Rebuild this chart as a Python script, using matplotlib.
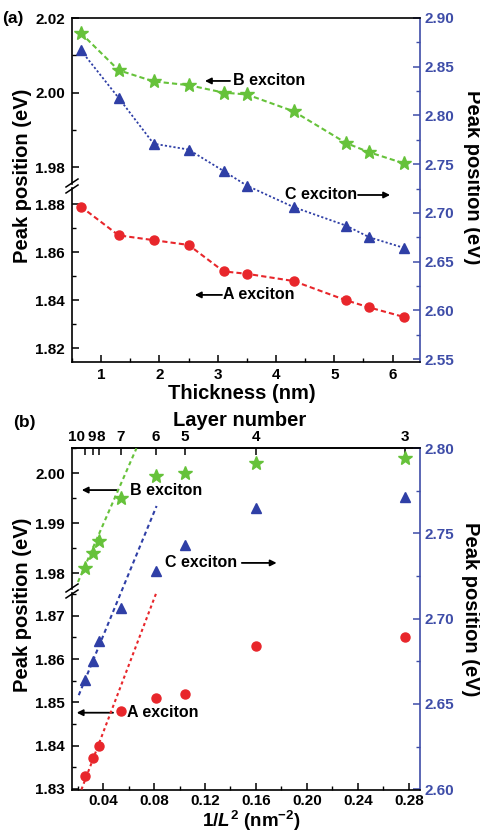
import numpy as np
import matplotlib
matplotlib.use('Agg')
import matplotlib.pyplot as plt
from matplotlib.lines import Line2D
from matplotlib.ticker import MultipleLocator, NullLocator, FormatStrFormatter
import matplotlib.transforms as mtransforms

# ---------------- data ----------------
thickness = [0.65, 1.3, 1.9, 2.5, 3.1, 3.5, 4.3, 5.2, 5.6, 6.2]          # nm
A_peak = [1.879, 1.867, 1.865, 1.863, 1.852, 1.851, 1.848, 1.840, 1.837, 1.833]
B_peak = [2.016, 2.006, 2.003, 2.002, 2.000, 1.9995, 1.995, 1.9865, 1.984, 1.981]
C_peak = [2.867, 2.818, 2.771, 2.765, 2.743, 2.728, 2.706, 2.687, 2.675, 2.664]

# panel (b) uses samples of 3..10 layers (thickness 1.9 .. 6.2 nm)
layer_numbers = [3, 4, 5, 6, 7, 8, 9, 10]
layer_thickness = thickness[2:]
inv_L2 = [1.0 / (t * t) for t in layer_thickness]
A_b = A_peak[2:]
B_b = B_peak[2:]
C_b = C_peak[2:]

# linear fit lines drawn in (b)
fitA_x = [0.0230, 0.0820]
fitA_y = [1.8298, 1.8755]
fitB_x = [0.0203, 0.0662]
fitB_y = [1.9783, 2.0050]
fitC_x = [0.0209, 0.0820]
fitC_y = [2.6551, 2.7660]

GREEN = '#66C23A'
BLUE = '#2F3FA6'
BLUE_AX = '#3E4DA8'
RED = '#E8262B'

plt.rcParams.update({
    'font.family': ['Liberation Sans', 'DejaVu Sans'],
    'font.weight': 'bold',
    'font.size': 11,
    'mathtext.fontset': 'custom',
    'mathtext.rm': 'Liberation Sans:bold',
    'mathtext.it': 'Liberation Sans:italic:bold',
    'mathtext.bf': 'Liberation Sans:bold',
    'axes.linewidth': 1.2,
})

W, H = 481, 833
fig = plt.figure(figsize=(W / 100, H / 100), dpi=100)


def rect(l, t, r, b):
    return [l / W, 1 - b / H, (r - l) / W, (b - t) / H]


def fx(px):
    return px / W


def fy(py):
    return 1 - py / H


LEFT, RIGHT = 72, 420


def make_panel(top, brk, bottom, xlim, ylimU, ylimL, ylimR, gap=4, xpad=4):
    axR = fig.add_axes(rect(LEFT, top, RIGHT, bottom))
    axU = fig.add_axes(rect(LEFT, top, RIGHT, brk - gap / 2))
    axL = fig.add_axes(rect(LEFT, brk + gap / 2, RIGHT, bottom))
    for a in (axR, axU, axL):
        a.set_xlim(*xlim)
    axU.set_ylim(*ylimU)
    axL.set_ylim(*ylimL)
    axR.set_ylim(*ylimR)
    # right (full-height) axis
    axR.spines['left'].set_visible(False)
    axR.spines['right'].set_color(BLUE_AX)
    axR.yaxis.tick_right()
    axR.tick_params(axis='y', which='both', direction='in', colors=BLUE_AX,
                    labelcolor=BLUE_AX, pad=3)
    axR.tick_params(axis='both', which='major', length=5, width=1.1)
    axR.tick_params(axis='both', which='minor', length=3, width=1.0)
    axR.tick_params(axis='x', which='both', direction='in', pad=xpad)
    # left split axes
    for a in (axU, axL):
        a.patch.set_visible(False)
        for s in ('top', 'bottom', 'right'):
            a.spines[s].set_visible(False)
        a.xaxis.set_visible(False)
        a.tick_params(axis='y', which='both', direction='in', pad=5)
        a.tick_params(axis='y', which='major', length=5, width=1.1)
        a.tick_params(axis='y', which='minor', length=3, width=1.0)
    # break marks
    yc = brk
    for dy in (-3, 3):
        fig.add_artist(Line2D([fx(LEFT - 6), fx(LEFT + 6)],
                              [fy(yc + dy + 4), fy(yc + dy - 4)],
                              transform=fig.transFigure, color='k', lw=1.1))
    return axR, axU, axL


fmt2 = FormatStrFormatter('%.2f')

# ================= panel (a) =================
axR, axU, axL = make_panel(18, 186, 362, (0.5, 6.47),
                           (1.9755, 2.02), (1.8143, 1.8867), (2.547, 2.90))
axR.xaxis.set_major_locator(MultipleLocator(1))
axR.xaxis.set_minor_locator(MultipleLocator(0.5))
axR.yaxis.set_major_locator(MultipleLocator(0.05))
axR.yaxis.set_minor_locator(MultipleLocator(0.025))
axR.yaxis.set_major_formatter(fmt2)
for a in (axU, axL):
    a.yaxis.set_major_locator(MultipleLocator(0.02))
    a.yaxis.set_minor_locator(MultipleLocator(0.01))
    a.yaxis.set_major_formatter(fmt2)

axR.plot(thickness, C_peak, color=BLUE, ls=(0, (1.2, 1.2)), lw=1.3,
         marker='^', ms=7, mec=BLUE, mfc=BLUE)
axU.plot(thickness, B_peak, color=GREEN, ls=(0, (2.5, 1.5)), lw=1.5,
         marker='*', ms=10.5, mec=GREEN, mfc=GREEN, clip_on=False)
axL.plot(thickness, A_peak, color=RED, ls=(0, (2.5, 1.5)), lw=1.5,
         marker='o', ms=6.5, mec=RED, mfc=RED)

arrow = dict(arrowstyle='-|>', lw=1.3, color='k', mutation_scale=9,
             shrinkA=0, shrinkB=0)
tkw = dict(fontsize=11.5, fontweight='bold', va='center')
axR.annotate('', xy=(0.382, 0.817), xytext=(0.454, 0.817),
             xycoords='axes fraction', arrowprops=arrow)
axR.text(0.463, 0.817, 'B exciton', transform=axR.transAxes, ha='left', **tkw)
axR.text(0.612, 0.4855, 'C exciton', transform=axR.transAxes, ha='left', **tkw)
axR.annotate('', xy=(0.914, 0.4855), xytext=(0.822, 0.4855),
             xycoords='axes fraction', arrowprops=arrow)
axR.annotate('', xy=(0.353, 0.195), xytext=(0.431, 0.195),
             xycoords='axes fraction', arrowprops=arrow)
axR.text(0.434, 0.195, 'A exciton', transform=axR.transAxes, ha='left', **tkw)

lab = dict(fontsize=14.5, fontweight='bold', ha='center', va='center')
fig.text(fx(242), fy(394), 'Thickness (nm)', **lab)
fig.text(fx(23), fy(176), 'Peak position (eV)', rotation=90, **lab)
fig.text(fx(473), fy(177), 'Peak position (eV)', rotation=270, **lab)
fig.text(fx(2), fy(18), '(a)', fontsize=12.5, fontweight='bold', ha='left', va='center')

# ================= panel (b) =================
bR, bU, bL = make_panel(448, 591, 790, (0.0156, 0.2888),
                        (1.9769, 2.00506), (1.8297, 1.8753), (2.5995, 2.80),
                        xpad=3)
bR.xaxis.set_major_locator(MultipleLocator(0.04))
bR.xaxis.set_minor_locator(MultipleLocator(0.02))
bR.xaxis.set_major_formatter(fmt2)
bR.yaxis.set_major_locator(MultipleLocator(0.05))
bR.yaxis.set_minor_locator(MultipleLocator(0.025))
bR.yaxis.set_major_formatter(fmt2)
for a in (bU, bL):
    a.yaxis.set_major_locator(MultipleLocator(0.01))
    a.yaxis.set_minor_locator(MultipleLocator(0.005))
    a.yaxis.set_major_formatter(fmt2)

bR.plot(fitC_x, fitC_y, color=BLUE, ls=(0, (2, 1.6)), lw=1.5)
bU.plot(fitB_x, fitB_y, color=GREEN, ls=(0, (2, 1.6)), lw=1.5)
bL.plot(fitA_x, fitA_y, color=RED, ls=(0, (1.5, 1.5)), lw=1.5)
bR.plot(inv_L2, C_b, ls='none', marker='^', ms=7, mec=BLUE, mfc=BLUE)
bU.plot(inv_L2, B_b, ls='none', marker='*', ms=10.5, mec=GREEN, mfc=GREEN, clip_on=False)
bL.plot(inv_L2, A_b, ls='none', marker='o', ms=6.5, mec=RED, mfc=RED)

# top axis: layer number
sec = bR.secondary_xaxis('top')
sec.set_xticks(inv_L2, labels=[str(n) for n in layer_numbers])
sec.xaxis.set_minor_locator(NullLocator())
sec.tick_params(axis='x', direction='in', length=5, width=1.1, pad=3, labelsize=11)
label_shift = {10: -9, 9: -1, 8: 2}
for n, tl in zip(layer_numbers, sec.xaxis.get_majorticklabels()):
    if n in label_shift:
        off = mtransforms.ScaledTranslation(label_shift[n] / 100, 0, fig.dpi_scale_trans)
        tl.set_transform(tl.get_transform() + off)

bR.annotate('', xy=(0.028, 0.877), xytext=(0.128, 0.877),
            xycoords='axes fraction', arrowprops=arrow)
bR.text(0.167, 0.877, 'B exciton', transform=bR.transAxes, ha='left', **tkw)
bR.text(0.267, 0.664, 'C exciton', transform=bR.transAxes, ha='left', **tkw)
bR.annotate('', xy=(0.588, 0.664), xytext=(0.488, 0.664),
            xycoords='axes fraction', arrowprops=arrow)
bR.annotate('', xy=(0.0135, 0.226), xytext=(0.118, 0.226),
            xycoords='axes fraction', arrowprops=arrow)
bR.text(0.157, 0.226, 'A exciton', transform=bR.transAxes, ha='left', **tkw)

fig.text(fx(240), fy(421), 'Layer number', **lab)
fig.text(fx(251), fy(827), r'1/$\mathit{L}^{2}$ (nm$^{-2}$)', fontsize=13.5,
         fontweight='bold', ha='center', va='baseline')
fig.text(fx(23), fy(605), 'Peak position (eV)', rotation=90, **lab)
fig.text(fx(471), fy(609), 'Peak position (eV)', rotation=270, **lab)
fig.text(fx(13), fy(423), '(b)', fontsize=12.5, fontweight='bold', ha='left', va='center')

fig.savefig('out.png', dpi=100)
